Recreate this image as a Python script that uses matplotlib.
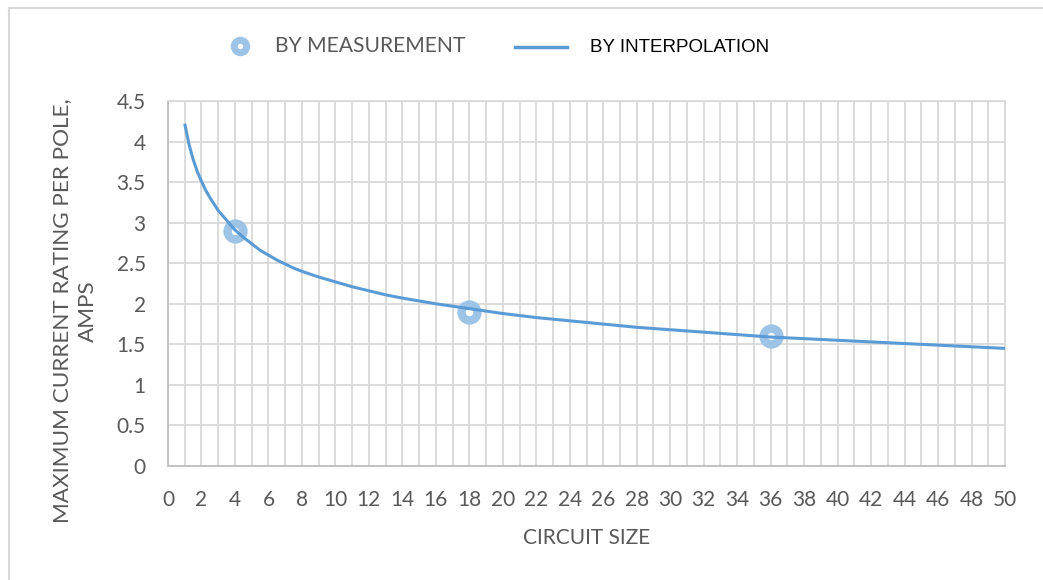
import numpy as np
import matplotlib.pyplot as plt
from matplotlib.lines import Line2D

# measured points
meas_x = [4, 18, 36]
meas_y = [2.9, 1.9, 1.6]

# interpolation curve, values
interp_x = [1, 1.25, 1.5, 1.75, 2, 2.25, 2.5, 2.75, 3, 3.25, 3.5, 3.75, 4, 4.5, 5, 5.5,
            6, 6.5, 7, 7.5, 8, 9, 10, 11, 12, 13, 14, 16, 18, 20, 22, 24, 26, 28, 30,
            32, 34, 36, 38, 40, 42, 44, 46, 48, 50]
interp_y = [4.22, 3.97, 3.78, 3.63, 3.51, 3.40, 3.31, 3.23, 3.15, 3.09, 3.03, 2.97, 2.91,
            2.82, 2.74, 2.66, 2.60, 2.54, 2.49, 2.44, 2.40, 2.33, 2.27, 2.21, 2.16, 2.11,
            2.07, 2.00, 1.94, 1.88, 1.83, 1.79, 1.75, 1.71, 1.68, 1.65, 1.62, 1.59, 1.57,
            1.55, 1.53, 1.51, 1.49, 1.47, 1.45]

xticks = np.arange(0, 51, 2)
yticks = [0, 0.5, 1, 1.5, 2, 2.5, 3, 3.5, 4, 4.5]
yticklabels = ['0', '0.5', '1', '1.5', '2', '2.5', '3', '3.5', '4', '4.5']

tick_font = 'Lato'
grey = '#595959'

fig = plt.figure(figsize=(10.43, 5.80), dpi=100)
ax = fig.add_axes([168 / 1043, 1 - 466 / 580, (1005 - 168) / 1043, (466 - 101) / 580])

ax.plot(meas_x, meas_y, 'o', ms=11.5, mfc='white', mec='#9dc3e6', mew=6,
        zorder=3, ls='none')
ax.plot(interp_x, interp_y, color='#5b9bd5', lw=2.2, zorder=4,
        solid_joinstyle='round', solid_capstyle='butt')

ax.set_xlim(0, 50)
ax.set_ylim(0, 4.5)
ax.set_xticks(xticks)
ax.set_xticks(np.arange(0, 51, 1), minor=True)
ax.set_yticks(yticks)
ax.set_yticklabels(yticklabels)
ax.grid(which='both', axis='x', color='#d9d9d9', lw=1.3)
ax.grid(which='major', axis='y', color='#d9d9d9', lw=1.3)
ax.set_axisbelow(True)
ax.tick_params(which='both', length=0)
ax.tick_params(axis='x', pad=17, labelsize=15, labelcolor=grey)
ax.tick_params(axis='y', pad=16, labelsize=15, labelcolor=grey)
for lab in ax.get_xticklabels() + ax.get_yticklabels():
    lab.set_family(tick_font)

for s in ['top', 'right']:
    ax.spines[s].set_color('#d9d9d9')
for s in ['left', 'bottom']:
    ax.spines[s].set_color('#bfbfbf')
for s in ax.spines.values():
    s.set_linewidth(1.3)

ax.set_xlabel('CIRCUIT SIZE', fontsize=15, color=grey, family=tick_font, labelpad=13)
fig.text(75 / 1043, 1 - 311 / 580, 'MAXIMUM CURRENT RATING PER POLE,\nAMPS',
         fontsize=16.2, color=grey, family=tick_font, rotation=90, ha='center',
         va='center', multialignment='center', linespacing=1.4)

# legend drawn by hand in figure coords
fig.add_artist(Line2D([240 / 1043], [1 - 46 / 580], marker='o', ms=9, mfc='white',
                      mec='#9dc3e6', mew=5, ls='none'))
fig.text(275 / 1043, 1 - 46 / 580, 'BY MEASUREMENT', fontsize=15.2, color=grey,
         family=tick_font, va='center', ha='left')
fig.add_artist(Line2D([515 / 1043, 567 / 1043], [1 - 47 / 580, 1 - 47 / 580],
                      color='#5b9bd5', lw=2.5))
fig.text(590 / 1043, 1 - 47 / 580, 'BY INTERPOLATION', fontsize=13.5, color='black',
         family='Liberation Sans', va='center', ha='left')

# outer frame (top and left)
fig.add_artist(Line2D([9 / 1043, 1], [1 - 8 / 580, 1 - 8 / 580], color='#d9d9d9', lw=1.5))
fig.add_artist(Line2D([9 / 1043, 9 / 1043], [0, 1 - 8 / 580], color='#d9d9d9', lw=1.5))

fig.savefig('out.png', dpi=100)
